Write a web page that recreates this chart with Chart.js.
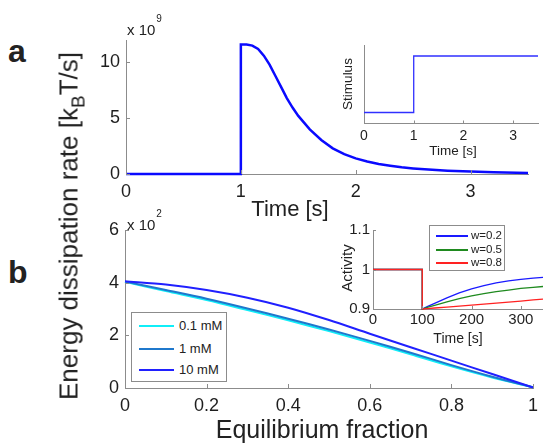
<!DOCTYPE html>
<html>
<head>
<meta charset="utf-8">
<script src="https://cdn.jsdelivr.net/npm/chart.js@4.4.0/dist/chart.umd.min.js"></script>
<style>
  body { margin: 0; background: #fff; }
  #fig { position: relative; width: 543px; height: 446px; overflow: hidden;
         font-family: 'Liberation Sans', Arial, Helvetica, sans-serif; color: #222; }
  #fig canvas { position: absolute; }
  .txt { position: absolute; white-space: nowrap; }
  .legend { position: absolute; background: #fff; border: 1px solid #8c8c8c; box-sizing: border-box; }
  .legend .swatch { position: absolute; height: 0; }
  .legend .name { position: absolute; white-space: nowrap; line-height: 1; }
</style>
</head>
<body>
<div id="fig">
  <canvas id="rateChart"></canvas>
  <canvas id="stimChart"></canvas>
  <canvas id="eqChart"></canvas>
  <canvas id="actChart"></canvas>
</div>
<script>
// panel a: dissipation rate after a step stimulus (x 10^9 kBT/s)
const rateTime  = [0, 1, 1, 1.05, 1.1, 1.15, 1.2, 1.25, 1.3, 1.35, 1.4, 1.45, 1.5, 1.6, 1.7, 1.8, 1.9, 2.0, 2.1, 2.2, 2.3, 2.4, 2.5, 2.6, 2.8, 3.0, 3.2, 3.5];
const rateValue = [0, 0, 11.6, 11.6, 11.5, 11.2, 10.6, 9.8, 8.8, 7.8, 6.8, 5.95, 5.2, 4.0, 3.05, 2.3, 1.78, 1.4, 1.12, 0.9, 0.74, 0.6, 0.5, 0.42, 0.3, 0.22, 0.16, 0.1];
const rateTicksX = [0, 1, 2, 3];
const rateTicksY = [0, 5, 10];

// panel a inset: stimulus step
const stimTime  = [0, 1, 1, 3.5];
const stimValue = [0.14, 0.14, 0.86, 0.86];
const stimTicksX = [0, 1, 2, 3];

// panel b: dissipation vs equilibrium fraction (x 10^2)
const eqFraction = [0, 0.1, 0.2, 0.3, 0.4, 0.5, 0.6, 0.7, 0.8, 0.9, 1.0];
const concLabels = ['0.1 mM', '1 mM', '10 mM'];
const diss01mM = [4.03, 3.68, 3.34, 2.96, 2.57, 2.16, 1.73, 1.28, 0.82, 0.40, 0.03];
const diss1mM  = [4.04, 3.72, 3.39, 3.02, 2.63, 2.22, 1.79, 1.34, 0.87, 0.43, 0.03];
const diss10mM = [4.05, 3.93, 3.72, 3.43, 3.05, 2.58, 2.06, 1.55, 1.04, 0.53, 0.02];
const concColors = ['#10eef8', '#1f78cc', '#2020ff'];
const eqTicksX = [0, 0.2, 0.4, 0.6, 0.8, 1];
const eqTicksY = [0, 2, 4, 6];

// panel b inset: activity after the step, for three w values
const actTime = [0, 100, 100, 110, 125, 150, 175, 200, 225, 250, 275, 300, 325, 345];
const wLabels = ['w=0.2', 'w=0.5', 'w=0.8'];
const actW02 = [1, 1, 0.9, 0.906, 0.914, 0.928, 0.941, 0.951, 0.959, 0.966, 0.971, 0.975, 0.978, 0.980];
const actW05 = [1, 1, 0.9, 0.904, 0.909, 0.918, 0.926, 0.933, 0.939, 0.944, 0.948, 0.952, 0.955, 0.957];
const actW08 = [1, 1, 0.9, 0.901, 0.9025, 0.905, 0.9075, 0.910, 0.9125, 0.915, 0.9175, 0.920, 0.923, 0.925];
const wColors = ['#1a1aff', '#1f8a1f', '#ff2222'];
const actTicksX = [0, 100, 200, 300];
const actTicksY = [0.9, 1, 1.1];

const FONT = "'Liberation Sans', Arial, Helvetica, sans-serif";
const AXIS = '#8c8c8c';
const INK = '#1e1e1e';

// matlab style tick marks drawn inside the axes
const innerTicks = {
  id: 'innerTicks',
  afterDraw(chart, args, opts) {
    const { ctx, chartArea } = chart;
    const len = opts.length || 4;
    ctx.save();
    ctx.strokeStyle = AXIS;
    ctx.lineWidth = 1;
    ctx.beginPath();
    chart.scales.x.ticks.forEach(t => {
      const px = Math.round(chart.scales.x.getPixelForValue(t.value)) + 0.5;
      ctx.moveTo(px, chartArea.bottom);
      ctx.lineTo(px, chartArea.bottom - len);
    });
    chart.scales.y.ticks.forEach(t => {
      const py = Math.round(chart.scales.y.getPixelForValue(t.value)) + 0.5;
      ctx.moveTo(chartArea.left, py);
      ctx.lineTo(chartArea.left + len, py);
    });
    ctx.stroke();
    ctx.restore();
  }
};

function axis(min, max, ticks, size, pad, fit, horizontal, showLabels) {
  return {
    type: 'linear', min, max,
    grid: { display: false, drawTicks: false },
    border: { color: AXIS, width: 1 },
    ticks: {
      display: showLabels !== false, padding: pad, color: INK,
      font: { family: FONT, size }, maxRotation: 0, autoSkip: false,
      callback: v => String(v)
    },
    afterBuildTicks: s => { s.ticks = ticks.map(v => ({ value: v })); },
    afterFit: s => {
      if (horizontal) s.height = fit; else s.width = fit;
      s.paddingLeft = s.paddingRight = s.paddingTop = s.paddingBottom = 0;
    }
  };
}

// order: the later series is painted on top, as in matlab
function series(xs, ys, color, width, order) {
  return {
    data: xs.map((x, i) => ({ x, y: ys[i] })),
    borderColor: color, borderWidth: width, order: order || 0,
    pointRadius: 0, fill: false, tension: 0, clip: false
  };
}

function makeChart(id, box, datasets, x, y) {
  const c = document.getElementById(id);
  c.width = box.w; c.height = box.h;
  c.style.left = box.left + 'px'; c.style.top = box.top + 'px';
  return new Chart(c, {
    type: 'line',
    data: { datasets },
    options: {
      responsive: false, animation: false, devicePixelRatio: 1,
      layout: { padding: { top: box.padTop, right: box.padRight, left: 0, bottom: 0 } },
      plugins: { legend: { display: false }, tooltip: { enabled: false }, innerTicks: { length: box.tick } },
      scales: { x, y }
    },
    plugins: [innerTicks]
  });
}

makeChart('rateChart', { left: 76, top: 28, w: 467, h: 176, padTop: 12, padRight: 15, tick: 4 },
  [series(rateTime, rateValue, '#0a0aff', 2.5)],
  axis(0, 3.5, rateTicksX, 18, 7, 30, true),
  axis(0, 12, rateTicksY, 18, 6, 50, false));

makeChart('stimChart', { left: 340, top: 38, w: 203, h: 106, padTop: 7, padRight: 5, tick: 3 },
  [series(stimTime, stimValue, '#3030ff', 1.3)],
  axis(0, 3.5, stimTicksX, 14, 4, 20.5, true),
  axis(0, 1, [], 14, 3, 24, false, false));

makeChart('eqChart', { left: 76, top: 218, w: 467, h: 228, padTop: 12, padRight: 10, tick: 4 },
  [series(eqFraction, diss01mM, concColors[0], 2, 3),
   series(eqFraction, diss1mM, concColors[1], 2, 2),
   series(eqFraction, diss10mM, concColors[2], 2, 1)].map(d => Object.assign(d, { tension: 0.3 })),
  axis(0, 1, eqTicksX, 18, 7, 58, true),
  axis(0, 6, eqTicksY, 18, 6, 49, false));

makeChart('actChart', { left: 330, top: 222, w: 213, h: 108, padTop: 8, padRight: 0, tick: 3 },
  [series(actTime, actW02, wColors[0], 1.3, 3),
   series(actTime, actW05, wColors[1], 1.3, 2),
   series(actTime, actW08, wColors[2], 1.3, 1)],
  axis(0, 345, actTicksX, 15, 2, 21, true),
  axis(0.9, 1.1, actTicksY, 15, 3, 43, false));

// text placed by baseline (Liberation Sans, line-height 1)
const fig = document.getElementById('fig');
function text(html, x, base, size, opts) {
  opts = opts || {};
  const d = document.createElement('div');
  d.className = 'txt';
  d.innerHTML = html;
  d.style.fontSize = size + 'px';
  d.style.lineHeight = size + 'px';
  if (opts.bold) d.style.fontWeight = 'bold';
  if (opts.rotate) {
    d.style.left = x + 'px';
    d.style.top = base + 'px';
    d.style.transform = 'translate(-50%,-50%) rotate(-90deg)';
  } else {
    d.style.left = x + 'px';
    d.style.top = (base - 0.8465 * size) + 'px';
    if (opts.center) d.style.transform = 'translateX(-50%)';
  }
  fig.appendChild(d);
}

text('a', 8, 62, 32, { bold: true });
text('b', 8, 283, 32, { bold: true });
text('Energy dissipation rate [k<span style="font-size:19px;position:relative;top:7px">B</span>T/s]', 70, 226, 26, { rotate: true });
text('x 10<span style="font-size:10px;position:relative;top:-13px;margin-left:1px">9</span>', 127, 35, 15);
text('x 10<span style="font-size:10px;position:relative;top:-13px;margin-left:1px">2</span>', 127, 230, 15);
text('Time [s]', 290, 217, 22, { center: true });
text('Equilibrium fraction', 322, 438, 25, { center: true });
text('Stimulus', 348, 84, 13.5, { rotate: true });
text('Time [s]', 453, 155, 13.5, { center: true });
text('Activity', 346, 268, 15, { rotate: true });
text('Time [s]', 458, 343, 14, { center: true });

function legend(box, labels, colors, rows, lineW, fontSize) {
  const l = document.createElement('div');
  l.className = 'legend';
  Object.assign(l.style, { left: box.left + 'px', top: box.top + 'px', width: box.w + 'px', height: box.h + 'px' });
  labels.forEach((name, i) => {
    const sw = document.createElement('div');
    sw.className = 'swatch';
    Object.assign(sw.style, { left: box.lineX + 'px', width: box.lineLen + 'px',
      top: Math.round(rows[i] - lineW / 2) + 'px', borderTop: lineW + 'px solid ' + colors[i] });
    const t = document.createElement('div');
    t.className = 'name';
    t.textContent = name;
    Object.assign(t.style, { left: box.textX + 'px', top: (rows[i] - 0.52 * fontSize) + 'px', fontSize: fontSize + 'px' });
    l.appendChild(sw);
    l.appendChild(t);
  });
  fig.appendChild(l);
}

legend({ left: 131, top: 312, w: 96, h: 70, lineX: 7, lineLen: 35, textX: 47 },
  concLabels, concColors, [13, 36, 57], 2, 13);
legend({ left: 429, top: 225, w: 76, h: 46, lineX: 6, lineLen: 32, textX: 41 },
  wLabels, wColors, [10, 24, 37], 2, 11.5);
</script>
</body>
</html>
